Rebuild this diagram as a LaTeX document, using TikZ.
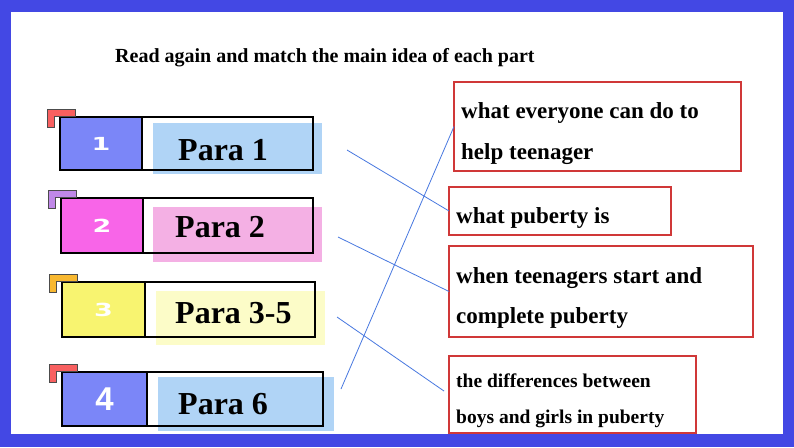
\documentclass[tikz,border=0pt]{standalone}
\usepackage{fontspec}
\setmainfont{Liberation Serif}
\newfontfamily\digitfont[FakeStretch=1.5]{DejaVu Sans}
\newfontfamily\numfont{Liberation Sans}
\definecolor{framebg}{RGB}{67,72,228}
\definecolor{numblue}{RGB}{123,134,248}
\definecolor{lightblue}{RGB}{176,212,246}
\definecolor{numpink}{RGB}{248,101,232}
\definecolor{lightpink}{RGB}{244,176,228}
\definecolor{numyellow}{RGB}{248,244,112}
\definecolor{lightyellow}{RGB}{252,252,200}
\definecolor{cornerred}{RGB}{248,96,96}
\definecolor{cornerpurple}{RGB}{192,136,232}
\definecolor{cornerorange}{RGB}{248,184,48}
\definecolor{ideared}{RGB}{208,56,56}
\definecolor{linkblue}{RGB}{72,120,224}
\newcommand{\cornerL}[2]{\draw[cornerline,fill=#2] ([shift={(-13,-8)}]#1.north west) -- ++(28,0) -- ++(0,7) -- ++(-21,0) -- ++(0,11) -- ++(-7,0) -- cycle;}
\tikzset{
	box/.style={rectangle,inner sep=0pt,outer sep=0pt,anchor=north west},
	lightbox/.style={box,draw=none},
	outerbox/.style={box,draw=black,line width=1.8pt},
	numbox/.style={box,draw=black,line width=1.8pt,text=white,font=\digitfont\bfseries\fontsize{18}{18}\selectfont},
	cornerline/.style={draw=black!70,line width=0.9pt},
	paratext/.style={anchor=base west,inner sep=0pt,font=\bfseries\fontsize{32}{32}\selectfont},
	ideabox/.style={box,draw=ideared,line width=1.1pt},
	ideatext/.style={anchor=base west,inner sep=0pt,font=\bfseries\fontsize{23}{23}\selectfont},
	link/.style={draw=linkblue,line width=0.8pt}
}
\begin{document}
\begin{tikzpicture}[x=1pt,y=-1pt]
	\useasboundingbox (0,0) rectangle (794,447);
	\fill[framebg] (0,0) rectangle (794,447);
	\fill[white] (11,12) rectangle (783,434);
	\node[anchor=base west,inner sep=0pt,font=\bfseries\fontsize{20}{20}\selectfont] (title) at (115,62) {Read again and match the main idea of each part};

	\node[lightbox,fill=lightblue,minimum width=169pt,minimum height=51pt] (l1) at (153,123) {};
	\node[outerbox,minimum width=253pt,minimum height=53pt] (o1) at (60,117) {};
	\node[numbox,fill=numblue,minimum width=82pt,minimum height=53pt] (n1) at (o1.north west) {1};
	\cornerL{o1}{cornerred}
	\node[paratext] (t1) at (178,160) {Para 1};

	\node[lightbox,fill=lightpink,minimum width=169pt,minimum height=55pt] (l2) at (153,207) {};
	\node[outerbox,minimum width=252pt,minimum height=55pt] (o2) at (61,198) {};
	\node[numbox,fill=numpink,minimum width=82pt,minimum height=55pt] (n2) at (o2.north west) {2};
	\cornerL{o2}{cornerpurple}
	\node[paratext] (t2) at (175,237) {Para 2};

	\node[lightbox,fill=lightyellow,minimum width=169pt,minimum height=54pt] (l3) at (156,291) {};
	\node[outerbox,minimum width=253pt,minimum height=55pt] (o3) at (62,282) {};
	\node[numbox,fill=numyellow,minimum width=83pt,minimum height=55pt] (n3) at (o3.north west) {3};
	\cornerL{o3}{cornerorange}
	\node[paratext] (t3) at (175,323) {Para 3-5};

	\node[lightbox,fill=lightblue,minimum width=176pt,minimum height=54pt] (l4) at (158,377) {};
	\node[outerbox,minimum width=261pt,minimum height=54pt] (o4) at (62,372) {};
	\node[numbox,fill=numblue,minimum width=85pt,minimum height=54pt,font=\numfont\bfseries\fontsize{33}{33}\selectfont] (n4) at (o4.north west) {4};
	\cornerL{o4}{cornerred}
	\node[paratext] (t4) at (178,414) {Para 6};

	\node[ideabox,minimum width=287pt,minimum height=89pt] (a) at (454,82) {};
	\node[ideatext] (a1) at (461,118) {what everyone can do to};
	\node[ideatext] (a2) at (461,159) {help teenager};
	\node[ideabox,minimum width=222pt,minimum height=48pt] (b) at (449,187) {};
	\node[ideatext] (b1) at (456,223) {what puberty is};
	\node[ideabox,minimum width=304pt,minimum height=91pt] (c) at (449,246) {};
	\node[ideatext] (c1) at (456,283) {when teenagers start and};
	\node[ideatext] (c2) at (456,323) {complete puberty};
	\node[ideabox,minimum width=247pt,minimum height=77pt] (d) at (449,356) {};
	\node[ideatext,font=\bfseries\fontsize{19.5}{19.5}\selectfont] (d1) at (456,387) {the differences between};
	\node[ideatext,font=\bfseries\fontsize{19.5}{19.5}\selectfont] (d2) at (456,423) {boys and girls in puberty};

	\coordinate (s1) at (347,150);
	\coordinate (s2) at (338,237);
	\coordinate (s3) at (337,317);
	\coordinate (s4) at (341,389);
	\path[link] (s1) -- (b.west)
		(s2) -- (c.west)
		(s4) -- (a.west);
	\draw[link,shorten >=6pt] (s3) -- (d.west);
\end{tikzpicture}
\end{document}
